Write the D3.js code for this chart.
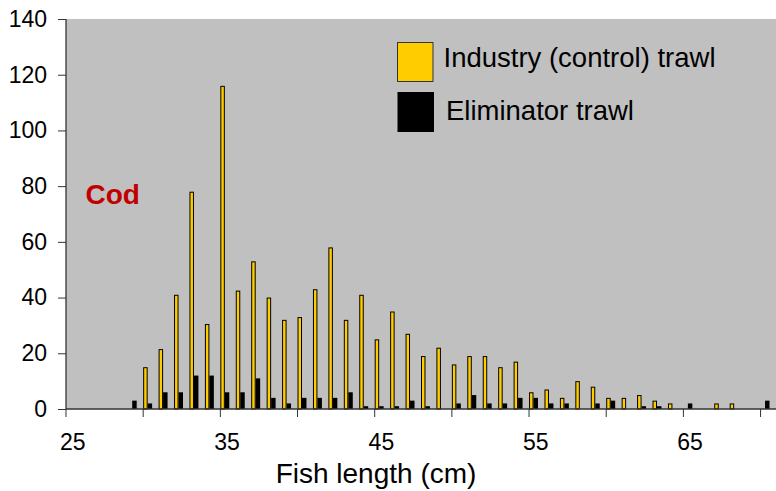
<!DOCTYPE html>
<html>
<head>
<meta charset="utf-8">
<script src="https://cdn.jsdelivr.net/npm/d3@7"></script>
<style>
  html, body { margin: 0; padding: 0; background: #fff; }
  svg { display: block; font-family: "Liberation Sans", Arial, sans-serif; }
</style>
</head>
<body>
<svg id="chart" width="776" height="491"></svg>
<script>
// Fish length categories (cm)
const lengths = d3.range(25, 71);
// Industry (control) trawl counts, lengths 25..70
const industry = [0, 0, 0, 0, 0, 15, 21.5, 41, 78, 30.5, 116, 42.5, 53, 40, 32, 33, 43, 58, 32, 41,
                  25, 35, 27, 19, 22, 16, 19, 19, 15, 17, 6, 7, 4, 10, 8, 4, 4, 5, 3, 2,
                  0, 0, 2, 2, 0, 0];
// Eliminator trawl counts, lengths 25..70
const eliminator = [0, 0, 0, 0, 3, 2, 6, 6, 12, 12, 6, 6, 11, 4, 2, 4, 4, 4, 6, 1,
                    1, 1, 3, 1, 0, 2, 5, 2, 2, 4, 4, 2, 2, 0, 2, 3, 0, 1, 1, 0,
                    2, 0, 0, 0, 0, 3];
const yTicks = [0, 20, 40, 60, 80, 100, 120, 140];
const xTickMarks = [25, 30, 35, 40, 45, 50, 55, 60, 65, 70];
const xTickLabels = [25, 35, 45, 55, 65];
const seriesNames = ["Industry (control) trawl", "Eliminator trawl"];
const seriesColors = ["#FFCC00", "#000000"];

const svg = d3.select("#chart");
const pLeft = 66, pRight = 776, pTop = 19, pBottom = 409;

const x = d3.scaleBand().domain(lengths).range([pLeft, pRight]).padding(0);
const bw = x.bandwidth();
const x1 = d3.scaleBand().domain([0, 1]).range([0, bw * 0.58]).padding(0);
const y = d3.scaleLinear().domain([0, 140]).range([pBottom, pTop]);

// plot area
svg.append("rect").attr("x", pLeft).attr("y", pTop)
  .attr("width", pRight - pLeft).attr("height", pBottom - pTop)
  .attr("fill", "#C0C0C0");

// bars
const data = lengths.map((l, i) => ({ l, v: [industry[i], eliminator[i]] }));
const g = svg.append("g");
data.forEach(d => {
  d.v.forEach((v, s) => {
    if (v <= 0) return;
    const x0 = x(d.l) + x1(s);
    if (s === 0) {
      g.append("rect")
        .attr("x", x0 + 0.5).attr("y", y(v) + 0.5)
        .attr("width", x1.bandwidth() - 1).attr("height", y(0) - y(v) - 0.5)
        .attr("fill", seriesColors[0]).attr("stroke", "#000").attr("stroke-width", 1);
    } else {
      g.append("rect")
        .attr("x", x0).attr("y", y(v))
        .attr("width", x1.bandwidth()).attr("height", y(0) - y(v))
        .attr("fill", seriesColors[1]);
    }
  });
});

// y axis
const yAxis = d3.axisLeft(y).tickValues(yTicks).tickSize(8).tickPadding(11);
const ya = svg.append("g").attr("transform", `translate(${pLeft},0)`).call(yAxis);
ya.select(".domain").remove();
ya.selectAll(".tick line").attr("stroke", "#333");
ya.selectAll(".tick text").attr("font-size", 23).attr("fill", "#000")
  .attr("font-family", "Liberation Sans, Arial, sans-serif");
svg.append("line").attr("x1", pLeft).attr("x2", pLeft).attr("y1", pTop).attr("y2", pBottom)
  .attr("stroke", "#333").attr("stroke-width", 1.3);

// x axis
svg.append("line").attr("x1", pLeft).attr("x2", pRight).attr("y1", pBottom).attr("y2", pBottom)
  .attr("stroke", "#333").attr("stroke-width", 1.3);
svg.append("g").selectAll("line").data(xTickMarks).join("line")
  .attr("x1", d => x(d)).attr("x2", d => x(d))
  .attr("y1", pBottom).attr("y2", pBottom + 8)
  .attr("stroke", "#333").attr("stroke-width", 1);
svg.append("g").selectAll("text").data(xTickLabels).join("text")
  .attr("x", d => x(d) + bw / 2 - 1).attr("y", 450)
  .attr("text-anchor", "middle").attr("font-size", 23).attr("fill", "#000")
  .text(d => d);

// axis title
svg.append("text").attr("x", 376).attr("y", 483).attr("text-anchor", "middle")
  .attr("font-size", 28).attr("fill", "#000").text("Fish length (cm)");

// label
svg.append("text").attr("x", 85.5).attr("y", 204).attr("font-size", 28)
  .attr("font-weight", "bold").attr("fill", "#C00000").text("Cod");

// legend
const legY = [42.5, 92.5];
const legTextY = [67, 119.5];
const legTextX = [443.5, 446];
seriesNames.forEach((n, i) => {
  svg.append("rect").attr("x", 397.5 + (i ? 0.5 : 0)).attr("y", legY[i])
    .attr("width", 35.5).attr("height", 39)
    .attr("fill", seriesColors[i]).attr("stroke", i ? "#000" : "#333").attr("stroke-width", 1);
  svg.append("text").attr("x", legTextX[i]).attr("y", legTextY[i])
    .attr("font-size", 27.5).attr("fill", "#000").text(n);
});
</script>
</body>
</html>
